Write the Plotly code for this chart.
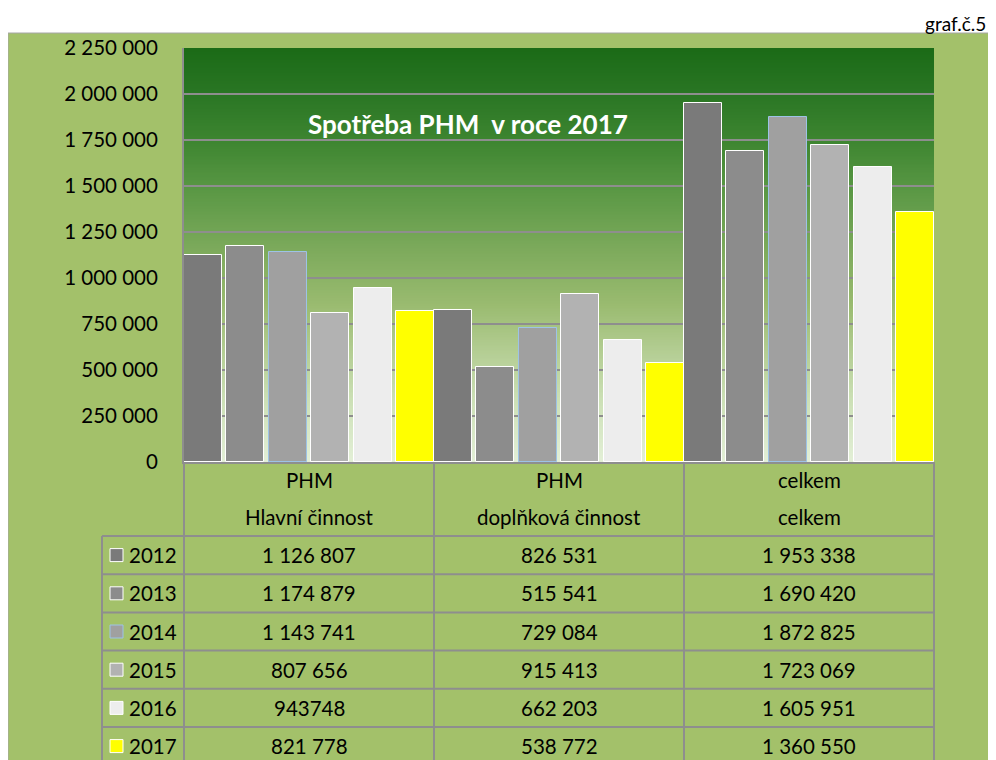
import base64
import struct
import zlib

import plotly.graph_objects as go

W, H = 996, 760
OFF = 8  # page body margin offset
FONT = "Lato"

# ---------------- data ----------------
category_top = ["PHM", "PHM", "celkem"]
category_bottom = ["Hlavní činnost", "doplňková činnost", "celkem"]
categories = [f"{a} {b}" for a, b in zip(category_top, category_bottom)]

years = ["2012", "2013", "2014", "2015", "2016", "2017"]
cells_2012 = ["1 126 807", "826 531", "1 953 338"]
cells_2013 = ["1 174 879", "515 541", "1 690 420"]
cells_2014 = ["1 143 741", "729 084", "1 872 825"]
cells_2015 = ["807 656", "915 413", "1 723 069"]
cells_2016 = ["943748", "662 203", "1 605 951"]
cells_2017 = ["821 778", "538 772", "1 360 550"]
table_cells = [cells_2012, cells_2013, cells_2014, cells_2015, cells_2016, cells_2017]

tick_values = [0, 250000, 500000, 750000, 1000000, 1250000, 1500000, 1750000, 2000000, 2250000]
tick_labels = ["0", "250 000", "500 000", "750 000", "1 000 000", "1 250 000",
               "1 500 000", "1 750 000", "2 000 000", "2 250 000"]

title_text = "Spotřeba PHM \u00a0v roce 2017"
corner_text = "graf.č.5"

# ---------------- styles ----------------
bar_colors = ["#7A7A7A", "#8C8C8C", "#A0A0A0", "#B2B2B2", "#EDEDED", "#FFFF00"]
bar_edges = ["#FFFFFF", "#FFFFFF", "#9DC3E6", "#FFFFFF", "#FFFFFF", "#FFFFFF"]
panel_color = "#A3C16A"
line_gray = "#8E8E8E"

# pixel geometry (screen coordinates)
PL, PR, PT, PB = 184, 934, 48, 462
col_edges = [184, 434, 684, 934]
left_col = 102
row_top = 536
row_h = 38.2


def X(px):
    return (px - OFF) / W


def Y(py):
    return 1 - (py - OFF) / H


def to_num(s):
    return int(s.replace(" ", ""))


# vertical gradient PNG for the plot area
grad_stops = [
    (0.00, (0x1B, 0x6B, 0x17)),
    (0.11, (0x2A, 0x76, 0x24)),
    (0.22, (0x3D, 0x85, 0x30)),
    (0.35, (0x5C, 0x99, 0x46)),
    (0.50, (0x80, 0xAC, 0x5E)),
    (0.62, (0x9A, 0xBB, 0x70)),
    (0.73, (0xB3, 0xCD, 0x92)),
    (0.85, (0xCC, 0xE0, 0xB6)),
    (1.00, (0xE3, 0xEF, 0xD7)),
]


def grad_color(t):
    for (t0, c0), (t1, c1) in zip(grad_stops[:-1], grad_stops[1:]):
        if t <= t1:
            f = (t - t0) / (t1 - t0) if t1 > t0 else 0
            return bytes(int(round(a + (b - a) * f)) for a, b in zip(c0, c1))
    return bytes(grad_stops[-1][1])


def make_png(n=256):
    raw = b"".join(b"\x00" + grad_color(i / (n - 1)) * 2 for i in range(n))

    def chunk(tag, data):
        return (struct.pack(">I", len(data)) + tag + data +
                struct.pack(">I", zlib.crc32(tag + data) & 0xFFFFFFFF))

    png = (b"\x89PNG\r\n\x1a\n" +
           chunk(b"IHDR", struct.pack(">IIBBBBB", 2, n, 8, 2, 0, 0, 0)) +
           chunk(b"IDAT", zlib.compress(raw)) +
           chunk(b"IEND", b""))
    return "data:image/png;base64," + base64.b64encode(png).decode()


fig = go.Figure()

n = len(years)
group_px = col_edges[1] - col_edges[0]
bar_w = 38 / group_px
pitch = (1 - bar_w) / (n - 1)
for k, (yr, cells) in enumerate(zip(years, table_cells)):
    fig.add_trace(go.Bar(
        x=categories,
        y=[to_num(c) for c in cells],
        name=yr,
        width=bar_w,
        offset=-0.5 + k * pitch,
        marker=dict(color=bar_colors[k], line=dict(color=bar_edges[k], width=1)),
        showlegend=False,
    ))

shapes = []
# outer panel
shapes.append(dict(type="rect", xref="paper", yref="paper", x0=X(8), x1=X(1030),
                   y0=Y(33), y1=Y(800), fillcolor=panel_color,
                   line=dict(color="#A6A6A6", width=1), layer="below"))

# table lines
lw = 2
for xe in col_edges:
    shapes.append(dict(type="line", xref="paper", yref="paper", x0=X(xe), x1=X(xe),
                       y0=Y(PB), y1=Y(H + 20), line=dict(color=line_gray, width=lw)))
shapes.append(dict(type="line", xref="paper", yref="paper", x0=X(left_col), x1=X(left_col),
                   y0=Y(row_top), y1=Y(H + 20), line=dict(color=line_gray, width=lw)))
for i in range(n):
    yy = row_top + i * row_h
    shapes.append(dict(type="line", xref="paper", yref="paper", x0=X(left_col), x1=X(PR),
                       y0=Y(yy), y1=Y(yy), line=dict(color=line_gray, width=lw)))

annotations = []
txt_font = dict(family=FONT, size=20.5, color="#000000")
# header text
for cat, top, bot in zip(categories, category_top, category_bottom):
    annotations.append(dict(x=cat, xref="x", y=Y(480), yref="paper", text=top,
                            showarrow=False, font=txt_font,
                            xanchor="center", yanchor="middle"))
    annotations.append(dict(x=cat, xref="x", y=Y(517), yref="paper", text=bot,
                            showarrow=False, font=txt_font,
                            xanchor="center", yanchor="middle"))

# data rows
for i, (yr, cells) in enumerate(zip(years, table_cells)):
    yc = row_top + row_h * i + row_h / 2
    for cat, c in zip(categories, cells):
        annotations.append(dict(x=cat, xref="x", y=Y(yc), yref="paper", text=c,
                                showarrow=False, font=txt_font,
                                xanchor="center", yanchor="middle"))
    annotations.append(dict(x=X(127), xref="paper", y=Y(yc), yref="paper", text=yr,
                            showarrow=False, font=txt_font,
                            xanchor="left", yanchor="middle"))
    shapes.append(dict(type="rect", xref="paper", yref="paper", x0=X(110), x1=X(123),
                       y0=Y(yc - 6.5), y1=Y(yc + 6.5), fillcolor=bar_colors[i],
                       line=dict(color=bar_edges[i], width=1)))

# title & corner label
annotations.append(dict(x=X(468), y=Y(124), xref="paper", yref="paper", text=title_text,
                        showarrow=False, xanchor="center", yanchor="middle",
                        font=dict(family=FONT, size=26, color="#FFFFFF", weight=700)))
annotations.append(dict(x=X(988), y=Y(23), xref="paper", yref="paper", text=corner_text,
                        showarrow=False, xanchor="right", yanchor="middle",
                        font=dict(family=FONT, size=19, color="#000000")))

fig.update_layout(
    width=W, height=H, autosize=False,
    margin=dict(l=0, r=0, t=0, b=0, pad=0, autoexpand=False),
    paper_bgcolor="#FFFFFF",
    plot_bgcolor="rgba(0,0,0,0)",
    barmode="group",
    bargap=0, bargroupgap=0,
    shapes=shapes,
    annotations=annotations,
    images=[dict(source=make_png(), xref="x", yref="y", x=-0.5, y=2250000,
                 sizex=3, sizey=2250000, sizing="stretch", layer="below",
                 xanchor="left", yanchor="top")],
    xaxis=dict(domain=[X(PL), X(PR)], range=[-0.5, 2.5], showticklabels=False,
               showgrid=False, showline=True, linecolor=line_gray, linewidth=2,
               ticks="", fixedrange=True, zeroline=False, automargin=False),
    yaxis=dict(domain=[Y(PB), Y(PT)], range=[0, 2250000], tickvals=tick_values,
               ticktext=tick_labels, showgrid=True, gridcolor=line_gray, gridwidth=1.5,
               showline=True, linecolor=line_gray, linewidth=2, ticks="",
               ticklabelstandoff=20, zeroline=False, automargin=False, fixedrange=True,
               tickfont=dict(family=FONT, size=20.5, color="#000000")),
    font=dict(family=FONT),
)

fig.write_html("out.html")
